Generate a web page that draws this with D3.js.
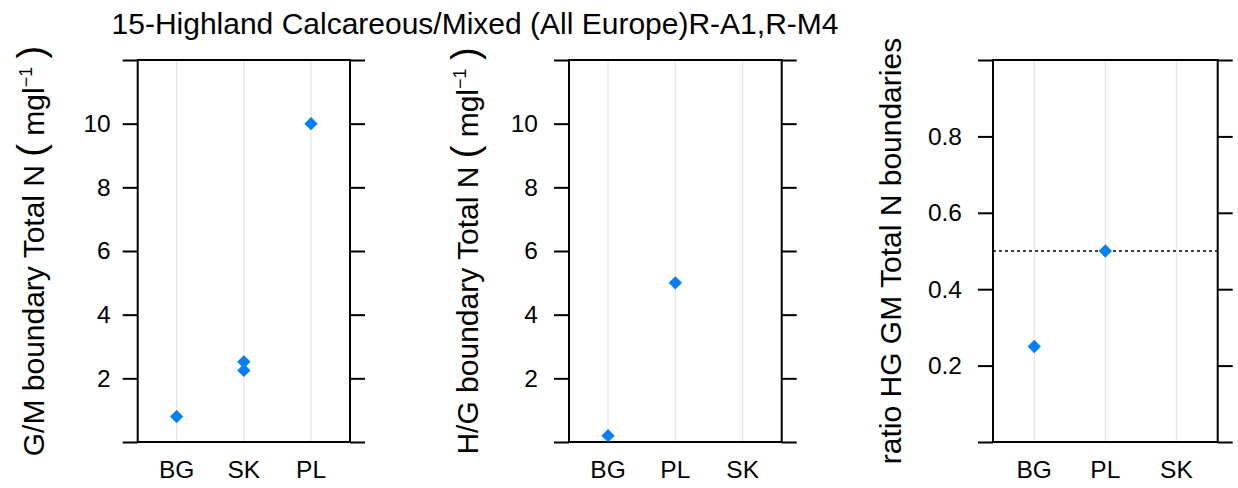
<!DOCTYPE html>
<html>
<head>
<meta charset="utf-8">
<script src="https://cdn.jsdelivr.net/npm/d3@7"></script>
<style>
  html, body { margin: 0; padding: 0; background: #fff; }
  svg { display: block; }
  text { font-family: "Liberation Sans", Arial, sans-serif; fill: #000; }
</style>
</head>
<body>
<svg id="chart" width="1238" height="488"></svg>
<script>
// ---- data ----
const titleText = "15-Highland Calcareous/Mixed (All Europe)R-A1,R-M4";

const gmCategories = ["BG", "SK", "PL"];
const gmCountry = ["BG", "SK", "SK", "PL"];
const gmValue = [0.8, 2.52, 2.25, 10];
const gmTicks = [2, 4, 6, 8, 10];

const hgCategories = ["BG", "PL", "SK"];
const hgCountry = ["BG", "PL"];
const hgValue = [0.2, 5];
const hgTicks = [2, 4, 6, 8, 10];

const ratioCategories = ["BG", "PL", "SK"];
const ratioCountry = ["BG", "PL"];
const ratioValue = [0.25, 0.5];
const ratioTicks = [0.2, 0.4, 0.6, 0.8];
const ratioRefLine = 0.5;

// ---- layout ----
const svg = d3.select("#chart");
const yTop = 60, yBottom = 442;
const blue = "#0080ff";

const panels = [
  { x0: 137.7, x1: 350, cats: gmCategories, country: gmCountry, value: gmValue,
    domain: [0, 12], ticks: gmTicks, pad: 12, fmt: d3.format("d"),
    labelX: 44, label: ["G/M boundary Total N ", true] },
  { x0: 569, x1: 781.7, cats: hgCategories, country: hgCountry, value: hgValue,
    domain: [0, 12], ticks: hgTicks, pad: 16, fmt: d3.format("d"),
    labelX: 478, label: ["H/G boundary Total N ", true] },
  { x0: 993, x1: 1217.7, cats: ratioCategories, country: ratioCountry, value: ratioValue,
    domain: [0, 1], ticks: ratioTicks, pad: 16, fmt: d3.format(".1f"),
    labelX: 901, label: ["ratio HG GM Total N boundaries", false], ref: ratioRefLine }
];

// title
svg.append("text")
  .attr("x", 475).attr("y", 34)
  .attr("text-anchor", "middle")
  .style("font-size", "30px")
  .text(titleText);

const tickLen = 15;

panels.forEach(p => {
  const x = d3.scalePoint().domain(p.cats).range([p.x0, p.x1]).padding(0.58);
  const y = d3.scaleLinear().domain(p.domain).range([yBottom, yTop]);
  const g = svg.append("g");

  // vertical grid lines
  g.selectAll("line.grid").data(p.cats).enter().append("line")
    .attr("x1", d => x(d)).attr("x2", d => x(d))
    .attr("y1", yTop).attr("y2", yBottom)
    .attr("stroke", "#e6e6e6").attr("stroke-width", 1.3);

  // reference line
  if (p.ref !== undefined) {
    g.append("line")
      .attr("x1", p.x0).attr("x2", p.x1)
      .attr("y1", y(p.ref)).attr("y2", y(p.ref))
      .attr("stroke", "#000").attr("stroke-width", 1.7)
      .attr("stroke-dasharray", "3,3");
  }

  // left axis
  const allTicks = [p.domain[0]].concat(p.ticks, [p.domain[1]]);
  const left = g.append("g").attr("transform", `translate(${p.x0},0)`)
    .call(d3.axisLeft(y).tickValues(allTicks)
      .tickFormat(d => p.ticks.includes(d) ? p.fmt(d) : "")
      .tickSize(tickLen).tickSizeOuter(0).tickPadding(p.pad));
  left.select(".domain").remove();
  left.selectAll(".tick line").attr("stroke", "#000").attr("stroke-width", 2);
  left.selectAll(".tick text").style("font-size", "24.5px").attr("fill", "#000")
    .style("font-family", '"Liberation Sans", Arial, sans-serif');

  // right axis
  const right = g.append("g").attr("transform", `translate(${p.x1},0)`)
    .call(d3.axisRight(y).tickValues(allTicks).tickFormat("")
      .tickSize(tickLen).tickSizeOuter(0));
  right.select(".domain").remove();
  right.selectAll(".tick line").attr("stroke", "#000").attr("stroke-width", 2);

  // box
  g.append("rect")
    .attr("x", p.x0).attr("y", yTop)
    .attr("width", p.x1 - p.x0).attr("height", yBottom - yTop)
    .attr("fill", "none").attr("stroke", "#000").attr("stroke-width", 2);

  // x labels
  g.selectAll("text.xlab").data(p.cats).enter().append("text")
    .attr("x", d => x(d)).attr("y", 478)
    .attr("text-anchor", "middle")
    .style("font-size", "24.5px")
    .text(d => d);

  // points
  const sym = d3.symbol().type(d3.symbolSquare).size(88);
  g.selectAll("path.pt").data(p.value).enter().append("path")
    .attr("d", sym)
    .attr("transform", (d, i) => `translate(${x(p.country[i])},${y(d)}) rotate(45)`)
    .attr("fill", blue);

  // y label
  const lab = svg.append("text")
    .attr("transform", `translate(${p.labelX},251) rotate(-90)`)
    .attr("text-anchor", "middle")
    .style("font-size", "30px");
  lab.append("tspan").text(p.label[0]);
  if (p.label[1]) {
    lab.append("tspan").style("font-size", "38px").text("(");
    lab.append("tspan").text(" mgl");
    lab.append("tspan").style("font-size", "18px").attr("dy", -12).text("\u22121");
    lab.append("tspan").attr("dy", 12).text(" ");
    lab.append("tspan").style("font-size", "38px").text(")");
  }
});
</script>
</body>
</html>
